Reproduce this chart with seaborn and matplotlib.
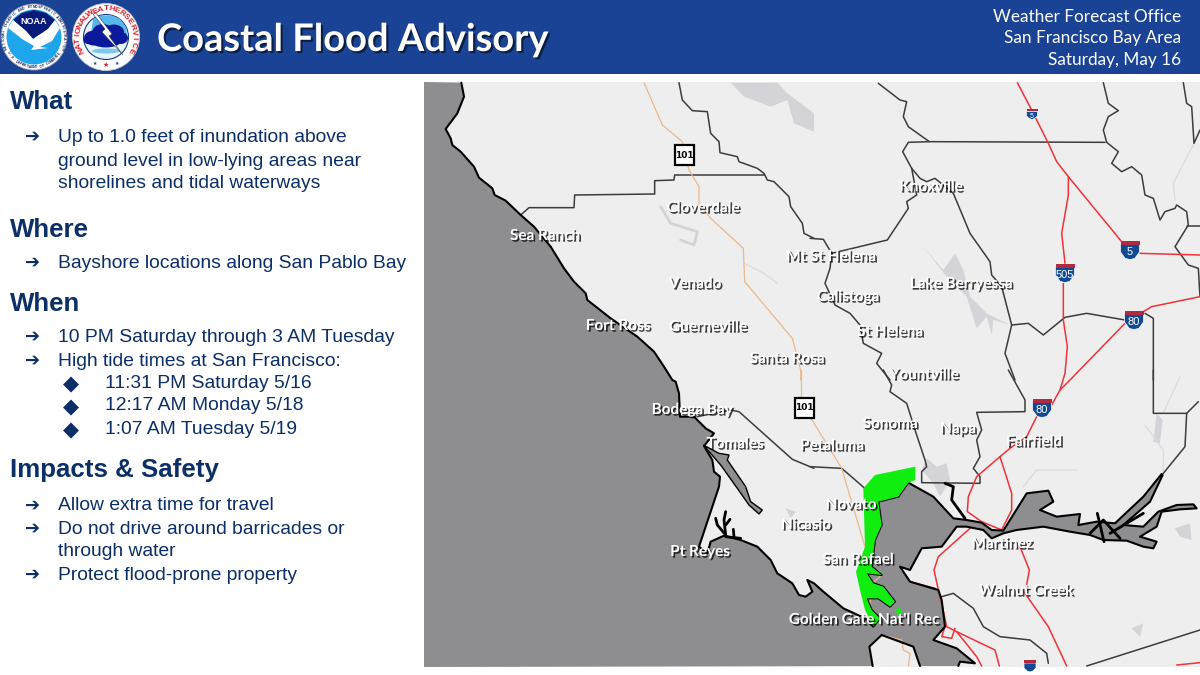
import numpy as np
import pandas as pd
import seaborn as sns
import matplotlib
matplotlib.use("Agg")
import matplotlib.pyplot as plt
import matplotlib.patheffects as pe
from matplotlib.patches import Circle, Ellipse, Polygon, Rectangle

# Text
title = "Coastal Flood Advisory"
office_lines = ["Weather Forecast Office", "San Francisco Bay Area", "Saturday, May 16"]
headings = [("What", 102), ("Where", 230), ("When", 304), ("Impacts & Safety", 470)]
bullets = [
    ("Up to 1.0 feet of inundation above", 136), ("ground level in low-lying areas near", 160),
    ("shorelines and tidal waterways", 183), ("Bayshore locations along San Pablo Bay", 262),
    ("10 PM Saturday through 3 AM Tuesday", 336), ("High tide times at San Francisco:", 360),
    ("Allow extra time for travel", 505), ("Do not drive around barricades or", 528),
    ("through water", 551), ("Protect flood-prone property", 574),
]
arrow_rows = [136, 262, 336, 360, 505, 528, 574]
tide_times = [("11:31 PM Saturday 5/16", 382), ("12:17 AM Monday 5/18", 405), ("1:07 AM Tuesday 5/19", 428)]

# Map labels: name, x, y in picture pixels
places = [
    ("Sea Ranch", 545, 236), ("Cloverdale", 703, 208), ("Mt St Helena", 831, 257),
    ("Knoxville", 931, 187), ("Venado", 695, 284), ("Lake Berryessa", 961, 284),
    ("Calistoga", 848, 297), ("Fort Ross", 618, 326), ("Guerneville", 708, 327),
    ("St Helena", 890, 332), ("Santa Rosa", 787, 359), ("Yountville", 924, 375),
    ("Bodega Bay", 692, 410), ("Sonoma", 890, 424), ("Napa", 958, 429),
    ("Tomales", 735, 444), ("Petaluma", 832, 446), ("Fairfield", 1034, 442),
    ("Novato", 851, 505), ("Nicasio", 806, 525), ("Pt Reyes", 700, 552),
    ("Martinez", 1002, 544), ("San Rafael", 858, 560), ("Walnut Creek", 1026, 591),
    ("Golden Gate Nat'l Rec", 864, 620),
]
shields_us = [("101", 684, 155), ("101", 804, 408)]
shields_i = [("5", 1032, 114, 11), ("5", 1130, 250, 19), ("505", 1065, 273, 19),
             ("80", 1134, 320, 19), ("80", 1042, 408, 19), ("", 1030, 666, 12)]


def crop(ox, oy, pts):
    return [(ox + x / 3, oy + y / 3) for x, y in pts]


# Coast, north to south, then round San Pablo Bay and the delta and back
coast_north = crop(424, 80, [(112, 8), (120, 50), (100, 100), (65, 147), (80, 175), (85, 195), (110, 215),
                             (150, 260), (165, 293), (205, 325), (212, 345), (245, 362), (290, 405), (330, 440),
                             (380, 500), (420, 565), (450, 605), (485, 640), (490, 660), (560, 715), (640, 770),
                             (690, 815), (720, 860), (745, 900)])
coast_marin = crop(424, 370, [(755, 35), (765, 70), (768, 140), (810, 140), (845, 175), (870, 190), (840, 228),
                              (865, 270), (870, 305), (888, 320), (885, 350), (825, 530), (850, 550), (860, 515),
                              (900, 497), (950, 510), (1000, 530), (1040, 570), (1060, 610), (1105, 640),
                              (1125, 675), (1145, 680), (1165, 665), (1150, 630), (1170, 640)])
coast_bay = crop(810, 370, [(40, 665), (100, 715), (165, 745), (190, 770), (210, 745), (185, 720), (170, 685),
                            (205, 685), (240, 710), (255, 695), (220, 650), (190, 640), (170, 610), (215, 615),
                            (185, 590), (195, 510), (215, 465), (205, 395), (265, 380), (295, 338), (370, 380),
                            (430, 445), (470, 450), (515, 458), (545, 480), (580, 482), (650, 370), (715, 362),
                            (730, 395), (690, 420), (740, 440), (810, 432), (805, 465), (860, 455), (915, 460),
                            (1000, 380), (1055, 312), (1058, 315), (1020, 395), (940, 465), (1000, 470), (1045, 425),
                            (1100, 405), (1150, 403), (1160, 415), (1110, 418), (1055, 425), (1040, 470),
                            (990, 500), (1040, 515), (1030, 535), (1000, 530), (950, 512), (880, 510), (840, 495),
                            (780, 485), (700, 470), (620, 480), (580, 490), (545, 505), (520, 480), (470, 470),
                            (440, 470), (395, 530), (335, 535), (300, 600), (270, 590), (300, 635), (385, 660),
                            (395, 690), (405, 770), (370, 810), (440, 835), (495, 880), (450, 875), (445, 888)])
coast_sf = crop(810, 370, [(330, 888), (310, 830), (215, 795), (178, 830), (188, 888)])
tomales_bay = crop(424, 370, [(838, 225), (885, 250), (915, 255), (910, 270), (965, 350), (980, 395), (1015, 420),
                              (1005, 432), (975, 405), (940, 355), (890, 285)])
drakes = [crop(424, 370, [(875, 445), (880, 465), (905, 495)]), crop(424, 370, [(905, 425), (900, 450), (905, 495)]),
          crop(424, 370, [(918, 448), (905, 465)]), crop(424, 370, [(905, 500), (950, 505)]),
          crop(424, 370, [(928, 478), (930, 500)])]
delta_inner = [crop(810, 370, [(862, 430), (882, 515)]), crop(810, 370, [(840, 490), (880, 450), (930, 505)]),
               crop(810, 370, [(900, 490), (1000, 430)])]
napa_river = [crop(810, 370, [(405, 340), (430, 350), (425, 390), (465, 445)])]

# Advisory area
advisory = crop(810, 370, [(316, 290), (316, 330), (295, 338), (265, 380), (205, 395), (215, 465), (195, 510),
                           (185, 590), (215, 615), (170, 610), (190, 640), (220, 650), (255, 695), (240, 710),
                           (205, 685), (170, 685), (185, 720), (210, 745), (190, 770), (165, 720), (150, 660),
                           (138, 605), (165, 530), (160, 355), (195, 315)])
advisory_islet = crop(810, 370, [(255, 720), (268, 712), (278, 728), (268, 738)])

# Lakes and faint terrain
lakes = [
    crop(810, 80, [(340, 500), (400, 570), (435, 520), (460, 570), (480, 650), (530, 700), (600, 735), (550, 720),
                   (545, 765), (530, 710), (500, 745), (470, 650), (410, 590)]),
    crop(424, 80, [(920, 8), (1060, 8), (1090, 40), (1170, 100), (1170, 155), (1110, 130), (1090, 60), (1040, 80),
                   (960, 50)]),
    crop(810, 370, [(335, 300), (350, 265), (380, 290), (410, 280), (420, 330), (390, 380), (370, 340)]),
    crop(810, 370, [(1030, 215), (1040, 130), (1058, 150), (1050, 220)]),
    crop(810, 370, [(965, 775), (1000, 760), (990, 800)]),
    crop(810, 370, [(1095, 475), (1140, 460), (1145, 510), (1110, 500)]),
    crop(424, 370, [(1085, 415), (1115, 425), (1100, 445)]),
]
sonoma_lake = crop(424, 80, [(710, 380), (740, 430), (820, 455), (810, 495), (770, 480)])
faint_lines = [
    crop(810, 80, [(1150, 195), (1090, 310), (1095, 360)]),
    crop(810, 370, [(1005, 165), (1060, 240), (1060, 310)]),
    crop(810, 370, [(640, 350), (680, 300), (800, 300)]),
    crop(810, 370, [(1110, 20), (1060, 130)]),
    crop(424, 80, [(960, 550), (1020, 580), (1060, 610)]),
]

# County lines
counties = [
    crop(424, 80, [(765, 8), (775, 60), (805, 92), (850, 95), (860, 160), (885, 185), (888, 218), (940, 230), (945, 245),
                   (1000, 265), (1020, 280), (1030, 300), (1050, 305), (1095, 350), (1100, 380), (1135, 430), (1140, 460),
                   (1170, 475)]),
    crop(810, 80, [(0, 475), (40, 478), (65, 520), (60, 565), (45, 610), (75, 675), (120, 700), (150, 735), (160, 790),
                   (215, 820), (200, 850), (240, 900)]),
    crop(810, 370, [(220, 0), (245, 45), (240, 65), (290, 100), (320, 195), (345, 270), (350, 290), (335, 305), (335, 338),
                    (510, 340), (510, 320), (490, 295), (510, 260), (500, 210), (515, 180), (500, 127), (645, 125),
                    (645, 90), (595, 0)]),
    crop(424, 80, [(290, 405), (315, 383), (450, 383), (452, 345), (692, 342), (692, 302), (750, 300), (752, 285), (1020, 285)]),
    crop(810, 80, [(205, 10), (270, 60), (290, 65), (280, 110), (295, 140), (358, 185), (885, 187)]),
    crop(810, 80, [(358, 185), (295, 187), (278, 215), (305, 265), (330, 295), (350, 305), (375, 295), (430, 340), (480, 460),
                   (540, 545), (545, 585), (575, 620), (605, 735), (585, 820), (615, 900)]),
    crop(810, 80, [(305, 265), (320, 345), (290, 365), (295, 385), (232, 480), (65, 520)]),
    crop(810, 80, [(605, 735), (655, 730), (700, 765), (765, 712), (830, 700), (945, 720)]),
    crop(810, 80, [(1005, 700), (1030, 715), (1030, 900)]),
    crop(810, 80, [(880, 8), (895, 70), (925, 92), (895, 110), (880, 150), (890, 187), (925, 215), (905, 250), (935, 275),
                   (965, 260), (995, 285), (1005, 345), (1030, 355), (1050, 420), (1065, 395), (1095, 385), (1100, 375),
                   (1130, 395), (1135, 435), (1095, 500), (1135, 555), (1165, 565), (1170, 650)]),
    crop(810, 80, [(1130, 438), (1170, 438)]),
    crop(810, 80, [(1120, 8), (1130, 70), (1145, 80), (1152, 190), (1170, 150)]),
    crop(810, 370, [(1030, 0), (1030, 130), (1130, 130), (1165, 95)]),
    crop(810, 370, [(1130, 130), (1125, 230), (1060, 310)]),
    crop(810, 370, [(395, 680), (430, 670), (490, 715), (520, 770), (570, 800), (660, 810), (710, 850), (715, 880)]),
    crop(810, 370, [(830, 888), (1170, 780)]),
    crop(424, 370, [(820, 140), (920, 120), (945, 125), (1105, 268), (1170, 295)]),
    crop(810, 370, [(0, 290), (95, 295), (130, 325), (170, 360), (205, 420)]),
]

# Highways
us_101 = [
    crop(424, 80, [(660, 8), (715, 135), (775, 185), (795, 270), (825, 320), (825, 370), (860, 415), (958, 505), (962, 605),
                   (1105, 775), (1130, 870), (1130, 900)]),
    crop(424, 370, [(1130, 0), (1130, 85)]),
    crop(810, 370, [(0, 140), (95, 295), (165, 530), (185, 590), (210, 620), (185, 640), (180, 700)]),
    crop(810, 370, [(215, 795), (275, 810), (280, 840), (300, 850), (295, 888)]),
]
interstates = [
    crop(810, 80, [(622, 8), (665, 90), (715, 190), (740, 245), (775, 290), (935, 485)]),
    crop(810, 80, [(990, 520), (1170, 525)]),
    crop(810, 80, [(775, 290), (775, 345), (755, 460), (765, 550)]),
    crop(810, 80, [(760, 610), (760, 720), (772, 800), (765, 880), (750, 930)]),
    crop(810, 80, [(1170, 650), (1025, 680), (1000, 695)]),
    crop(810, 80, [(945, 730), (780, 900), (750, 930), (725, 975)]),
    crop(810, 370, [(680, 140), (650, 200), (600, 235), (570, 260), (500, 320), (475, 380), (472, 425), (515, 455),
                    (575, 480), (605, 420), (605, 370), (570, 260)]),
    crop(810, 370, [(480, 475), (385, 560), (372, 600), (385, 660), (395, 700), (410, 770), (440, 785), (500, 860), (515, 888)]),
    crop(810, 370, [(440, 785), (555, 840), (568, 888)]),
    crop(810, 370, [(630, 530), (658, 600), (645, 670), (715, 770), (770, 888)]),
    crop(810, 370, [(300, 635), (375, 655)]),
    crop(810, 370, [(405, 770), (395, 800), (425, 805), (435, 775)]),
    crop(810, 370, [(1100, 885), (1170, 878)]),
    crop(810, 370, [(185, 590), (210, 615)]),
]

NAVY = "#0b2f66"
HEADER = "#1a4396"
WATER = "#8e8e90"
LAND = "#eeeeef"
GREEN = "#10ee10"


def draw_lines(ax, segments, color, lw):
    # one dataframe per style, seaborn draws each unit as its own line
    rows = [(i, x, y) for i, seg in enumerate(segments) for x, y in seg]
    df = pd.DataFrame(rows, columns=["unit", "x", "y"])
    sns.lineplot(data=df, x="x", y="y", units="unit", estimator=None, sort=False, color=color,
                 linewidth=lw, ax=ax, legend=False, zorder=4, solid_joinstyle="round")


def ring_text(ax, text, cx, cy, r, start, stop, size, color, bottom=False):
    for ch, ang in zip(text, np.linspace(start, stop, len(text))):
        rad = np.radians(ang)
        rot = -ang + 180 if bottom else -ang
        ax.text(cx + r * np.sin(rad), cy - r * np.cos(rad), ch, fontsize=size, color=color, rotation=rot,
                ha="center", va="center", family="Liberation Sans", weight="bold", zorder=14)


def noaa_logo(ax, cx, cy):
    ax.add_patch(Circle((cx, cy), 33, fc="white", ec="#9a9fb0", lw=0.6, zorder=10))
    ax.add_patch(Circle((cx, cy), 27.5, fc="#1ea6ec", ec="none", zorder=11))
    ax.add_patch(Polygon([(cx - 21, cy - 17), (cx - 12, cy - 24), (cx, cy - 27), (cx + 12, cy - 24), (cx + 21, cy - 17),
                          (cx + 14, cy - 8), (cx + 5, cy - 2), (cx - 1, cy + 2), (cx - 8, cy - 6)],
                         fc="#0a1a7a", ec="none", zorder=12))
    ax.add_patch(Polygon([(cx - 26, cy - 9), (cx - 21, cy - 17), (cx - 8, cy - 6), (cx - 1, cy + 2), (cx + 5, cy - 2),
                          (cx + 14, cy - 8), (cx + 21, cy - 17), (cx + 26, cy - 9), (cx + 18, cy + 4), (cx + 6, cy + 10),
                          (cx + 14, cy + 11), (cx - 3, cy + 13), (cx, cy + 9), (cx - 12, cy + 2)], fc="white", ec="none", zorder=12))
    ax.text(cx, cy - 15, "NOAA", color="white", fontsize=6.5, weight="bold", ha="center", va="center",
            family="Liberation Sans", zorder=13)
    ring_text(ax, "NATIONAL OCEANIC AND ATMOSPHERIC ADMINISTRATION", cx, cy, 30.2, -112, 112, 2.5, "#20306a")
    ring_text(ax, "U.S. DEPARTMENT OF COMMERCE", cx, cy, 30.2, 238, 122, 2.5, "#20306a", bottom=True)


def nws_logo(ax, cx, cy):
    ax.add_patch(Circle((cx, cy), 33.5, fc="white", ec="#c8c8c8", lw=0.6, zorder=10))
    ax.add_patch(Circle((cx, cy), 22.5, fc="#e8f6fc", ec="#123a8c", lw=0.8, zorder=11))
    ax.add_patch(Polygon([(cx - 13, cy - 18), (cx - 5, cy - 21.5), (cx + 6, cy - 21.5), (cx + 14, cy - 18), (cx + 20, cy - 10),
                          (cx + 21, cy - 3), (cx - 15, cy - 3)], fc="#56b8ea", ec="none", zorder=12))
    for dx, dy, w, h in [(-12, 1, 20, 15), (-3, -4, 22, 18), (8, -5, 20, 15), (15, 1, 14, 12), (0, 4, 30, 13), (-18, 3, 9, 8)]:
        ax.add_patch(Ellipse((cx + dx, cy + dy), w, h, fc="#0a1a9a", ec="none", zorder=12))
    ax.add_patch(Ellipse((cx, cy + 14), 28, 5, fc="#7cc8ee", ec="none", zorder=12))
    ax.add_patch(Polygon([(cx - 13, cy - 23), (cx - 1, cy - 8), (cx - 4, cy - 5), (cx + 17, cy + 18), (cx + 3, cy - 1),
                          (cx + 6, cy - 3), (cx - 10, cy - 24)], fc="white", ec="#33415f", lw=0.4, zorder=13))
    ring_text(ax, "NATIONAL", cx, cy, 28, -118, -44, 6, "#e0202c")
    ring_text(ax, "WEATHER", cx, cy, 28, -34, 34, 6, "#e0202c")
    ring_text(ax, "SERVICE", cx, cy, 28, 44, 118, 6, "#e0202c")
    ax.text(cx, cy + 28, "\u2605", color="#e0202c", fontsize=5, ha="center", va="center", family="DejaVu Sans", zorder=14)
    for dx in (-11, 11):
        ax.text(cx + dx, cy + 26, "\u2605", color="#123a8c", fontsize=3.5, ha="center", va="center",
                family="DejaVu Sans", zorder=14)


def us_shield(ax, label, x, y):
    ax.add_patch(Rectangle((x - 9.5, y - 10), 19, 20, fc="white", ec="black", lw=1.6, zorder=7))
    ax.text(x, y, label, color="black", fontsize=6.5, weight="bold", ha="center", va="center",
            family="DejaVu Sans", zorder=8)


def i_shield(ax, label, x, y, w):
    h = w
    ax.add_patch(Polygon([(x - w / 2, y - h / 2 + 3), (x + w / 2, y - h / 2 + 3), (x + w / 2, y + 2), (x + w / 4, y + h / 2 - 1),
                          (x, y + h / 2), (x - w / 4, y + h / 2 - 1), (x - w / 2, y + 2)], fc="#114a93", ec="white", lw=0.5, zorder=7))
    ax.add_patch(Rectangle((x - w / 2, y - h / 2), w, 4 if w > 15 else 2.5, fc="#b02a40", ec="none", zorder=8))
    ax.text(x, y + 2, label, color="white", fontsize=8 if w > 15 else 5, ha="center", va="center",
            family="Liberation Sans", zorder=9)


sns.set_theme(style="white")
plt.rcParams["font.family"] = ["Liberation Sans", "DejaVu Sans"]

fig = plt.figure(figsize=(12, 6.75), dpi=100)
ax = fig.add_axes([0, 0, 1, 1])

# Header band
ax.add_patch(Rectangle((0, 0), 1200, 73.5, fc=HEADER, ec="none", zorder=1))
noaa_logo(ax, 34, 37)
nws_logo(ax, 106, 37)
ax.text(157, 40, title, color="white", fontsize=27.4, weight="bold", family="Lato", ha="left", va="center", zorder=3,
        path_effects=[pe.withSimplePatchShadow(offset=(1.5, -1.5), shadow_rgbFace="black", alpha=0.55)])
for line, y in zip(office_lines, [17, 38, 60]):
    ax.text(1181, y, line, color="white", fontsize=12.4, family="Lato", ha="right", va="center", zorder=3)

# Left column
for text, y in headings:
    ax.text(10, y, text, color=NAVY, fontsize=18.6, weight="bold", va="center", ha="left")
for text, y in bullets:
    ax.text(58, y + 1, text, color=NAVY, fontsize=13.85, va="center", ha="left")
for y in arrow_rows:
    ax.text(25, y + 1, "\u2794", color=NAVY, fontsize=13, va="center", ha="left", family="DejaVu Sans")
for text, y in tide_times:
    ax.text(71, y + 2, "\u25c6", color=NAVY, fontsize=15, va="center", ha="center", family="DejaVu Sans")
    ax.text(105, y + 1, text, color=NAVY, fontsize=13.85, va="center", ha="left")

# Map
ax.add_patch(Rectangle((424, 82), 776, 585, fc=LAND, ec="none", zorder=1))
for lake in lakes:
    ax.add_patch(Polygon(lake, fc="#d4d4d8", ec="none", zorder=2))
draw_lines(ax, [sonoma_lake], "#d3d3d6", 2)
draw_lines(ax, faint_lines, "#dcdcde", 1)

coast = coast_north + coast_marin + coast_bay
ax.add_patch(Polygon([(424, 82)] + coast + coast_sf + [(424, 667)], fc=WATER, ec="none", zorder=3))
ax.add_patch(Polygon(tomales_bay, fc=WATER, ec="black", lw=1, zorder=4))
ax.add_patch(Polygon(advisory, fc=GREEN, ec="none", zorder=5))
ax.add_patch(Polygon(advisory_islet, fc=GREEN, ec="none", zorder=5))

draw_lines(ax, counties, "#3c3c3e", 1.1)
draw_lines(ax, us_101, "#eab98c", 0.9)
draw_lines(ax, interstates, "#ee3338", 1.1)
draw_lines(ax, [coast, coast_sf], "black", 1.5)
draw_lines(ax, drakes + delta_inner + napa_river, "black", 2)

for label, x, y in shields_us:
    us_shield(ax, label, x, y)
for label, x, y, w in shields_i:
    i_shield(ax, label, x, y, w)

for name, x, y in places:
    ax.text(x, y, name, color="white", fontsize=11, weight="bold", family="Lato", ha="center", va="center", zorder=9,
            path_effects=[pe.withSimplePatchShadow(offset=(1.2, -1.2), shadow_rgbFace="black", alpha=0.75)])

ax.set_xlim(0, 1200)
ax.set_ylim(675, 0)
ax.set_xlabel("")
ax.set_ylabel("")
ax.axis("off")

fig.savefig("out.png", dpi=100, facecolor="white")
